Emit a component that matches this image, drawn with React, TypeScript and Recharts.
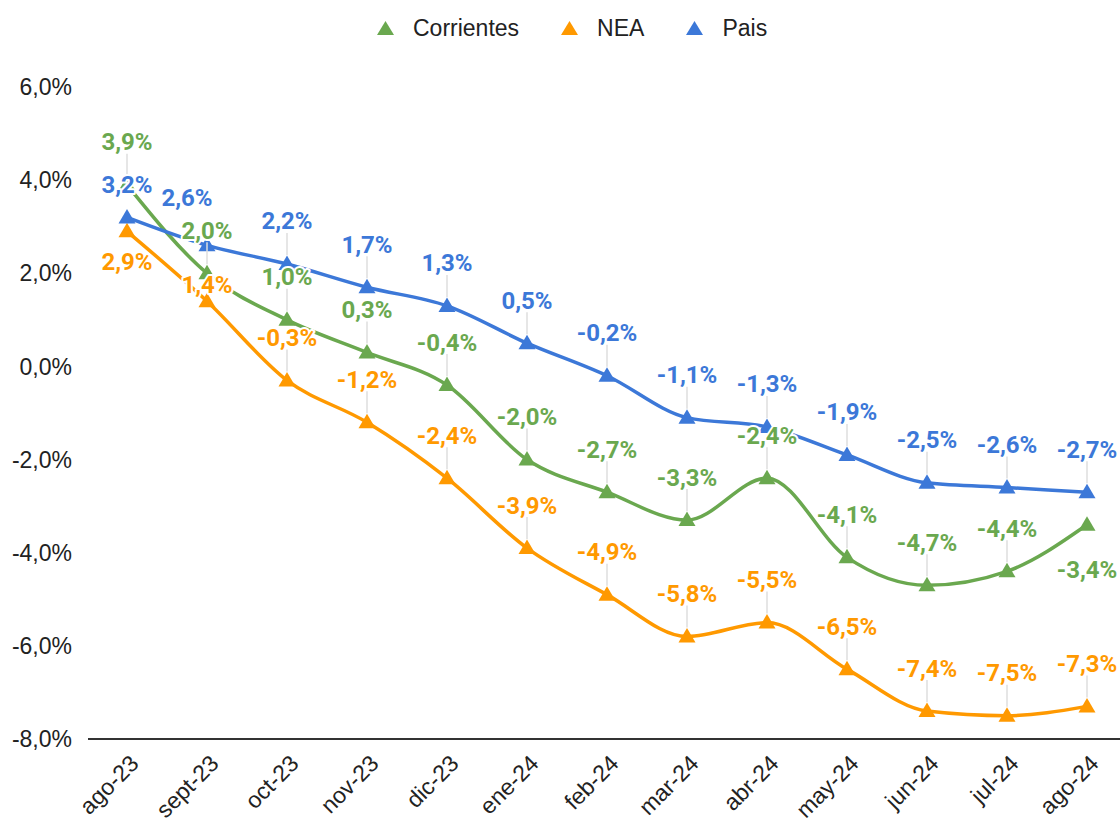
import type { ReactElement } from "react";
import { Line, LineChart, XAxis, YAxis } from "recharts";

const MONTHS = [
  "ago-23",
  "sept-23",
  "oct-23",
  "nov-23",
  "dic-23",
  "ene-24",
  "feb-24",
  "mar-24",
  "abr-24",
  "may-24",
  "jun-24",
  "jul-24",
  "ago-24",
];

const CORRIENTES = [3.9, 2.0, 1.0, 0.3, -0.4, -2.0, -2.7, -3.3, -2.4, -4.1, -4.7, -4.4, -3.4];
const NEA = [2.9, 1.4, -0.3, -1.2, -2.4, -3.9, -4.9, -5.8, -5.5, -6.5, -7.4, -7.5, -7.3];
const PAIS = [3.2, 2.6, 2.2, 1.7, 1.3, 0.5, -0.2, -1.1, -1.3, -1.9, -2.5, -2.6, -2.7];

const Y_TICKS = [-8, -6, -4, -2, 0, 2, 4, 6];

type SeriesKey = "corrientes" | "nea" | "pais";

const SERIES: { key: SeriesKey; name: string; color: string }[] = [
  { key: "corrientes", name: "Corrientes", color: "#6aa84f" },
  { key: "nea", name: "NEA", color: "#ff9900" },
  { key: "pais", name: "Pais", color: "#3c78d8" },
];

// where Google moved a label off its usual spot (above the point, with a leader)
type Placement = { dx: number; dy: number; leader: boolean };
const DEFAULT_PLACEMENT: Placement = { dx: 0, dy: -43, leader: true };
const LABEL_PLACEMENT: Record<SeriesKey, Record<number, Placement>> = {
  corrientes: { 12: { dx: 0, dy: 45, leader: false } },
  nea: {
    0: { dx: 0, dy: 30, leader: false },
    1: { dx: 0, dy: -17, leader: false },
  },
  pais: {
    0: { dx: 0, dy: -33, leader: false },
    1: { dx: -20, dy: -48, leader: false },
  },
};

const rows = MONTHS.map((month, i) => ({
  month,
  corrientes: CORRIENTES[i],
  nea: NEA[i],
  pais: PAIS[i],
}));

const TICK_FONT = '"Liberation Sans", Arial, sans-serif';
const LABEL_FONT = 'Roboto, "Noto Sans", sans-serif';

function formatPercent(value: number): string {
  return `${value.toFixed(1).replace(".", ",")}%`;
}

function placementFor(series: SeriesKey, index: number): Placement {
  return LABEL_PLACEMENT[series][index] ?? DEFAULT_PLACEMENT;
}

function TriangleDot(props: any): ReactElement | null {
  const { cx, cy, fill, index } = props;
  if (cx == null || cy == null) return null;
  return (
    <path
      key={`tri-${index}`}
      d={`M${cx},${cy - 8.5} L${cx + 8.5},${cy + 6} L${cx - 8.5},${cy + 6} Z`}
      fill={fill}
    />
  );
}

function LeaderLine(props: any & { series: SeriesKey }): ReactElement | null {
  const { x, y, index, series } = props;
  const place = placementFor(series, index);
  if (!place.leader || x == null || y == null) return null;
  const top = y + place.dy + 12;
  return (
    <line
      key={`leader-${series}-${index}`}
      x1={x + place.dx}
      x2={x + place.dx}
      y1={top}
      y2={y - 9}
      stroke="#dedede"
      strokeWidth={1.5}
    />
  );
}

function PointLabel(props: any & { series: SeriesKey; color: string }): ReactElement | null {
  const { x, y, index, value, series, color } = props;
  if (x == null || y == null || typeof value !== "number") return null;
  const place = placementFor(series, index);
  return (
    <text
      key={`label-${series}-${index}`}
      x={x + place.dx}
      y={y + place.dy + 8.5}
      textAnchor="middle"
      fill={color}
      stroke="#ffffff"
      strokeWidth={4}
      strokeLinejoin="round"
      paintOrder="stroke"
      fontFamily={LABEL_FONT}
      fontWeight={700}
      fontSize={24}
    >
      {formatPercent(value)}
    </text>
  );
}

function MonthTick(props: any): ReactElement {
  const { x, y, payload } = props;
  const ex = x + 13;
  const ey = y + 24;
  return (
    <text
      x={ex}
      y={ey}
      transform={`rotate(-45, ${ex}, ${ey})`}
      textAnchor="end"
      fill="#222222"
      fontFamily={TICK_FONT}
      fontSize={23}
    >
      {payload.value}
    </text>
  );
}

function ChartLegend(): ReactElement {
  return (
    <div
      style={{
        position: "absolute",
        left: 377,
        top: 14,
        display: "flex",
        alignItems: "center",
        fontFamily: TICK_FONT,
        fontSize: 23,
        color: "#222222",
        lineHeight: "28px",
      }}
    >
      {SERIES.map((s, i) => (
        <div key={s.key} style={{ display: "flex", alignItems: "center", marginLeft: i === 0 ? 0 : 42 }}>
          <svg width={17} height={14} style={{ display: "block" }}>
            <path d="M8.5,0 L17,14 L0,14 Z" fill={s.color} />
          </svg>
          <span style={{ marginLeft: 19 }}>{s.name}</span>
        </div>
      ))}
    </div>
  );
}

export default function App(): ReactElement {
  return (
    <div
      style={{
        position: "absolute",
        left: 0,
        top: 0,
        width: 1120,
        height: 820,
        background: "#ffffff",
        overflow: "hidden",
      }}
    >
      <ChartLegend />
      <LineChart width={1120} height={820} data={rows} margin={{ top: 87, right: 0, bottom: 11, left: 0 }}>
        <XAxis
          dataKey="month"
          scale="point"
          padding={{ left: 39, right: 33 }}
          height={70}
          interval={0}
          axisLine={{ stroke: "#333333", strokeWidth: 2 }}
          tickLine={false}
          tickSize={0}
          tick={<MonthTick />}
        />
        <YAxis
          domain={[-8, 6]}
          ticks={Y_TICKS}
          width={88}
          axisLine={false}
          tickLine={false}
          tickSize={0}
          tickMargin={16}
          tickFormatter={formatPercent}
          tick={{ fill: "#222222", fontFamily: TICK_FONT, fontSize: 23 }}
        />
        {SERIES.map((s) => (
          <Line
            key={`leader-${s.key}`}
            dataKey={s.key}
            stroke="none"
            dot={false}
            activeDot={false}
            isAnimationActive={false}
            label={(p: any) => <LeaderLine {...p} series={s.key} />}
          />
        ))}
        {SERIES.map((s) => (
          <Line
            key={s.key}
            type="monotone"
            dataKey={s.key}
            name={s.name}
            stroke={s.color}
            strokeWidth={3.5}
            fill={s.color}
            dot={(p: any) => <TriangleDot {...p} fill={s.color} key={`dot-${s.key}-${p.index}`} />}
            activeDot={false}
            isAnimationActive={false}
          />
        ))}
        {SERIES.map((s) => (
          <Line
            key={`labels-${s.key}`}
            dataKey={s.key}
            stroke="none"
            dot={false}
            activeDot={false}
            isAnimationActive={false}
            label={(p: any) => <PointLabel {...p} series={s.key} color={s.color} />}
          />
        ))}
      </LineChart>
    </div>
  );
}
